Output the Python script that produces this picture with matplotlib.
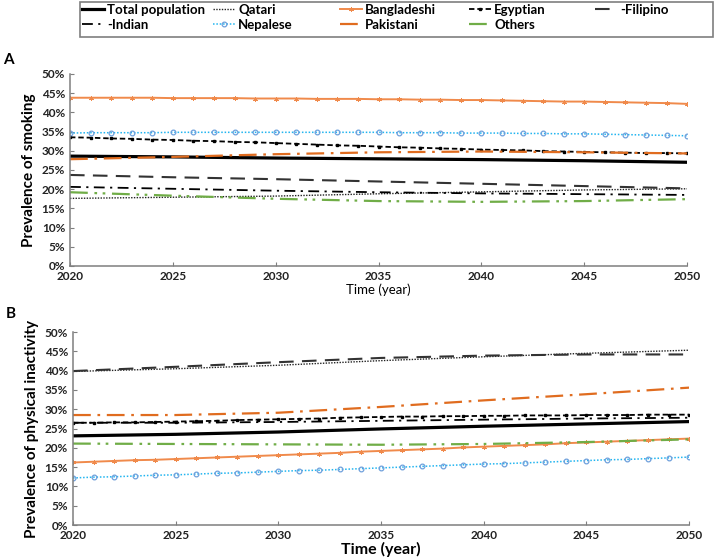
import matplotlib
matplotlib.use("Agg")
import matplotlib.pyplot as plt
from matplotlib.ticker import PercentFormatter
from matplotlib.patches import Rectangle
import numpy as np

plt.rcParams['font.family'] = ['Lato', 'DejaVu Sans']

# ---------------- data ----------------
years5 = [2020, 2025, 2030, 2035, 2040, 2045, 2050]
years1 = list(range(2020, 2051))

# Panel A: smoking prevalence (%)
a_total = [28.6, 28.4, 28.1, 27.9, 27.7, 27.4, 27.0]
a_qatari = [17.6, 17.9, 18.2, 18.8, 19.3, 19.8, 20.1]
a_pakistani = [27.8, 28.4, 29.1, 29.6, 29.8, 29.6, 29.3]
a_filipino = [23.7, 23.1, 22.6, 22.0, 21.4, 20.8, 20.2]
a_indian = [20.6, 20.1, 19.6, 19.2, 18.9, 18.7, 18.5]
a_others = [19.2, 18.3, 17.5, 16.9, 16.7, 16.9, 17.4]
a_bangladeshi = [43.8, 43.8, 43.8, 43.8, 43.8, 43.7, 43.7, 43.7, 43.7, 43.6, 43.6,
                 43.6, 43.5, 43.5, 43.5, 43.4, 43.4, 43.3, 43.3, 43.2, 43.2,
                 43.1, 43.0, 42.9, 42.8, 42.8, 42.7, 42.6, 42.5, 42.4, 42.2]
a_nepalese = [34.6, 34.7, 34.7, 34.7, 34.7, 34.8, 34.8, 34.8, 34.8, 34.8, 34.8,
              34.8, 34.8, 34.8, 34.8, 34.8, 34.7, 34.7, 34.7, 34.6, 34.6,
              34.6, 34.5, 34.5, 34.4, 34.4, 34.3, 34.2, 34.1, 34.0, 33.9]
a_egyptian = [33.5, 33.4, 33.2, 33.1, 32.9, 32.8, 32.6, 32.5, 32.3, 32.2, 32.0,
              31.8, 31.6, 31.4, 31.3, 31.1, 30.9, 30.8, 30.6, 30.5, 30.3,
              30.2, 30.1, 29.9, 29.8, 29.7, 29.6, 29.5, 29.4, 29.4, 29.3]

# Panel B: physical inactivity prevalence (%)
b_total = [23.1, 23.5, 24.1, 24.9, 25.6, 26.2, 26.8]
b_qatari = [39.8, 40.5, 41.4, 42.6, 43.6, 44.5, 45.3]
b_pakistani = [28.5, 28.5, 29.1, 30.6, 32.3, 33.9, 35.6]
b_filipino = [39.9, 41.0, 42.2, 43.3, 43.9, 44.2, 44.2]
b_indian = [26.5, 26.5, 26.7, 27.0, 27.3, 27.6, 27.8]
b_others = [21.1, 21.0, 20.9, 20.8, 21.0, 21.5, 22.2]
b_bangladeshi = [16.2, 16.4, 16.6, 16.8, 16.9, 17.1, 17.3, 17.5, 17.7, 17.9, 18.1,
                 18.3, 18.5, 18.7, 19.0, 19.2, 19.4, 19.6, 19.8, 20.1, 20.3,
                 20.5, 20.7, 20.9, 21.2, 21.4, 21.6, 21.8, 22.0, 22.2, 22.4]
b_nepalese = [12.2, 12.4, 12.5, 12.7, 12.9, 13.0, 13.2, 13.4, 13.5, 13.7, 13.9,
              14.1, 14.2, 14.4, 14.6, 14.8, 15.0, 15.2, 15.4, 15.6, 15.8,
              15.9, 16.1, 16.3, 16.5, 16.7, 16.9, 17.0, 17.2, 17.4, 17.6]
b_egyptian = [26.5, 26.5, 26.6, 26.6, 26.7, 26.8, 26.9, 27.0, 27.2, 27.3, 27.4,
              27.5, 27.6, 27.8, 27.9, 28.0, 28.1, 28.1, 28.2, 28.2, 28.3,
              28.3, 28.4, 28.4, 28.4, 28.5, 28.5, 28.5, 28.6, 28.6, 28.6]

xticks = [2020, 2025, 2030, 2035, 2040, 2045, 2050]
legend_labels = {'Total population': 'Total population', 'Qatari': 'Qatari',
                 'Bangladeshi': 'Bangladeshi', 'Egyptian': 'Egyptian',
                 'Filipino': '-Filipino', 'Indian': '-Indian', 'Nepalese': 'Nepalese',
                 'Pakistani': 'Pakistani', 'Others': 'Others'}

# ---------------- styles ----------------
ORANGE = '#F08A4B'
DORANGE = '#E06C1F'
GREEN = '#70AD47'
SKY = '#22B5F0'
CIRC = '#6FA0DC'

styles = {
    'Total population': dict(color='black', lw=2.3, ls='-'),
    'Qatari': dict(color='#222222', lw=1.0, ls=(0, (1, 1))),
    'Bangladeshi': dict(color=ORANGE, lw=1.4, ls='-', marker=(6, 2, 0), ms=3.4, mew=0.7),
    'Egyptian': dict(color='black', lw=1.3, ls=(0, (3, 1.6)), marker='s', ms=1.8),
    'Filipino': dict(color='#333333', lw=1.5, ls=(0, (7, 4))),
    'Indian': dict(color='black', lw=1.3, ls=(0, (6, 3, 1.2, 3))),
    'Nepalese': dict(color=SKY, lw=1.1, ls=(0, (1, 1.2)), marker='o', ms=3.4,
                     mfc='none', mec=CIRC, mew=0.9),
    'Pakistani': dict(color=DORANGE, lw=1.6, ls=(0, (8, 3, 1.2, 3))),
    'Others': dict(color=GREEN, lw=1.6, ls=(0, (8, 3, 1.2, 2.5, 1.2, 3))),
}

W, H = 718, 560
fig = plt.figure(figsize=(W / 100, H / 100), dpi=100)
axA = fig.add_axes([0.0975, 0.525, 0.8595, 0.343])
axB = fig.add_axes([0.1017, 0.0625, 0.858, 0.3445])

def draw(ax, d):
    handles = {}
    order = ['Total population', 'Qatari', 'Bangladeshi', 'Egyptian', 'Filipino',
             'Indian', 'Nepalese', 'Pakistani', 'Others']
    for name in order:
        x, y = d[name]
        h, = ax.plot(x, y, label=name, **styles[name])
        handles[name] = h
    ax.set_xlim(2020, 2050)
    ax.set_ylim(0, 50)
    ax.set_xticks(xticks)
    ax.set_yticks(np.arange(0, 51, 5))
    ax.yaxis.set_major_formatter(PercentFormatter(xmax=100, decimals=0))
    for s in ['top', 'right']:
        ax.spines[s].set_visible(False)
    for s in ['left', 'bottom']:
        ax.spines[s].set_color('#7f7f7f')
        ax.spines[s].set_linewidth(1.1)
    ax.tick_params(direction='in', length=3, color='#7f7f7f', labelsize=8.5)
    for lab in ax.get_xticklabels() + ax.get_yticklabels():
        lab.set_fontweight('bold')
        lab.set_color('#222222')
    return handles

dA = {
    'Total population': (years5, a_total), 'Qatari': (years5, a_qatari),
    'Bangladeshi': (years1, a_bangladeshi), 'Egyptian': (years1, a_egyptian),
    'Filipino': (years5, a_filipino), 'Indian': (years5, a_indian),
    'Nepalese': (years1, a_nepalese), 'Pakistani': (years5, a_pakistani),
    'Others': (years5, a_others),
}
dB = {
    'Total population': (years5, b_total), 'Qatari': (years5, b_qatari),
    'Bangladeshi': (years1, b_bangladeshi), 'Egyptian': (years1, b_egyptian),
    'Filipino': (years5, b_filipino), 'Indian': (years5, b_indian),
    'Nepalese': (years1, b_nepalese), 'Pakistani': (years5, b_pakistani),
    'Others': (years5, b_others),
}

hA = draw(axA, dA)
draw(axB, dB)

axA.set_ylabel('Prevalence of smoking', fontsize=11, fontweight='bold', labelpad=4)
axA.set_xlabel('Time (year)', fontsize=9.5, labelpad=1)
axB.set_ylabel('Prevalence of physical inactivity', fontsize=11, fontweight='bold', labelpad=4)
axB.set_xlabel('Time (year)', fontsize=11.5, fontweight='bold', labelpad=1)

fig.text(0.004, 0.885, 'A', fontsize=11, fontweight='bold')
fig.text(0.008, 0.432, 'B', fontsize=11, fontweight='bold')

# legend: 5 equally pitched columns inside one frame
columns = [['Total population', 'Indian'], ['Qatari', 'Nepalese'],
           ['Bangladeshi', 'Pakistani'], ['Egyptian', 'Others'], ['Filipino']]
col_x = [82, 213, 340, 469, 595]
fig.add_artist(Rectangle((80 / W, 1 - 37 / H), (713 - 80) / W, 35.5 / H,
                         transform=fig.transFigure, fill=False,
                         edgecolor='#7f7f7f', lw=1.2))
for names, cx in zip(columns, col_x):
    fig.legend([hA[n] for n in names], [legend_labels[n] for n in names],
               loc='upper left', bbox_to_anchor=(cx / W, 1 - 3.5 / H),
               frameon=False, ncol=1, handlelength=1.7, handletextpad=0.2,
               borderpad=0.0, borderaxespad=0.0, labelspacing=0.25,
               prop={'weight': 'bold', 'size': 9.5})

fig.savefig('out.png', dpi=100)
